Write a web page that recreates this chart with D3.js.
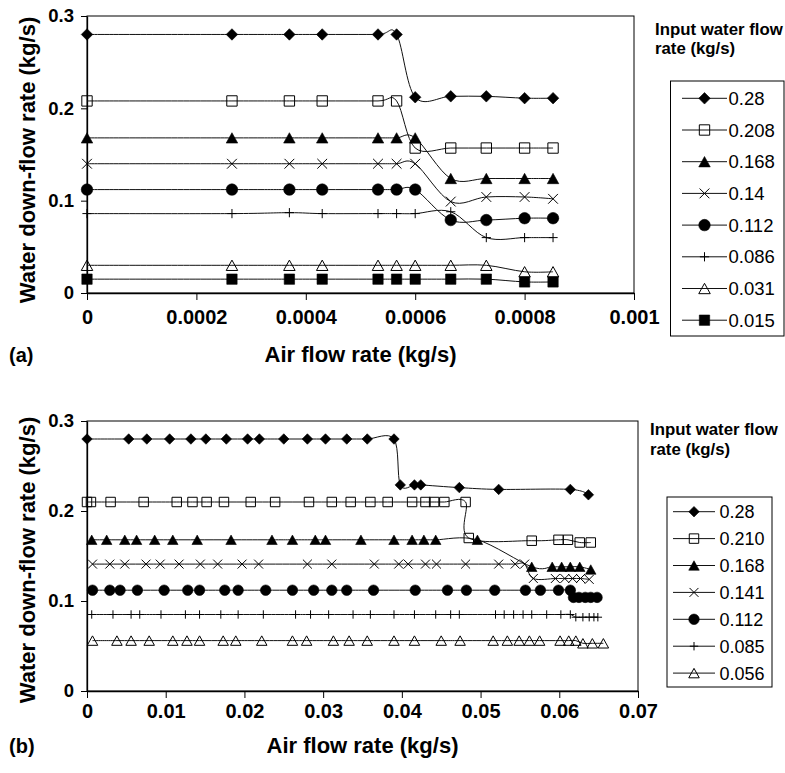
<!DOCTYPE html>
<html>
<head>
<meta charset="utf-8">
<script src="https://cdn.jsdelivr.net/npm/d3@7"></script>
<style>
  body { margin: 0; background: #fff; }
  svg { display: block; }
  text { font-family: "Liberation Sans", Arial, Helvetica, sans-serif; fill: #000; }
</style>
</head>
<body>
<svg id="chart" width="785" height="773"></svg>
<script>
// ---------- Panel (a): air flow 0 – 0.001 kg/s ----------
const airA = [0, 0.000265, 0.00037, 0.00043, 0.000532, 0.000566, 0.0006, 0.000665, 0.00073, 0.0008, 0.000852];
const flowA_028  = [0.28, 0.28, 0.28, 0.28, 0.28, 0.28, 0.212, 0.213, 0.213, 0.211, 0.211];
const flowA_0208 = [0.208, 0.208, 0.208, 0.208, 0.208, 0.208, 0.157, 0.157, 0.157, 0.157, 0.157];
const flowA_0168 = [0.168, 0.168, 0.168, 0.168, 0.168, 0.168, 0.168, 0.124, 0.124, 0.124, 0.124];
const flowA_014  = [0.14, 0.14, 0.14, 0.14, 0.14, 0.14, 0.14, 0.099, 0.104, 0.104, 0.102];
const flowA_0112 = [0.112, 0.112, 0.112, 0.112, 0.112, 0.112, 0.112, 0.079, 0.079, 0.081, 0.081];
const flowA_0086 = [0.086, 0.086, 0.087, 0.086, 0.086, 0.086, 0.086, 0.088, 0.06, 0.06, 0.06];
const flowA_0031 = [0.03, 0.03, 0.03, 0.03, 0.03, 0.03, 0.03, 0.03, 0.03, 0.023, 0.023];
const flowA_0015 = [0.015, 0.015, 0.015, 0.015, 0.015, 0.015, 0.015, 0.015, 0.015, 0.012, 0.012];
const legendA = ["0.28", "0.208", "0.168", "0.14", "0.112", "0.086", "0.031", "0.015"];
const xTicksA = [0, 0.0002, 0.0004, 0.0006, 0.0008, 0.001];
const xTickLabelsA = ["0", "0.0002", "0.0004", "0.0006", "0.0008", "0.001"];

// ---------- Panel (b): air flow 0 – 0.07 kg/s ----------
const airB_028  = [0, 0.0053, 0.0076, 0.0105, 0.0132, 0.0151, 0.0177, 0.0204, 0.0219, 0.025, 0.028, 0.0303, 0.033, 0.0356, 0.039, 0.0398, 0.0416, 0.0424, 0.0473, 0.0523, 0.0614, 0.0637];
const flowB_028 = [0.28, 0.28, 0.28, 0.28, 0.28, 0.28, 0.28, 0.28, 0.28, 0.28, 0.28, 0.28, 0.28, 0.28, 0.28, 0.229, 0.229, 0.229, 0.226, 0.224, 0.224, 0.218];

const airB_0210  = [0, 0.0005, 0.003, 0.0072, 0.0114, 0.0134, 0.0152, 0.0174, 0.0208, 0.0239, 0.0282, 0.0311, 0.0335, 0.036, 0.0382, 0.0413, 0.043, 0.0441, 0.0454, 0.0481, 0.0485, 0.0565, 0.0599, 0.0611, 0.0626, 0.064];
const flowB_0210 = [0.21, 0.21, 0.21, 0.21, 0.21, 0.21, 0.21, 0.21, 0.21, 0.21, 0.21, 0.21, 0.21, 0.21, 0.21, 0.21, 0.21, 0.21, 0.21, 0.21, 0.17, 0.167, 0.168, 0.168, 0.165, 0.165];

const airB_0168  = [0.0006, 0.0025, 0.0048, 0.0063, 0.0086, 0.0109, 0.014, 0.0183, 0.0235, 0.0261, 0.029, 0.0303, 0.0348, 0.039, 0.0413, 0.0428, 0.0443, 0.0496, 0.0565, 0.0591, 0.0603, 0.0614, 0.0626, 0.064];
const flowB_0168 = [0.168, 0.168, 0.168, 0.168, 0.168, 0.168, 0.168, 0.168, 0.168, 0.168, 0.168, 0.168, 0.168, 0.168, 0.168, 0.168, 0.168, 0.168, 0.138, 0.138, 0.138, 0.138, 0.138, 0.135];

const airB_0141  = [0.0007, 0.0029, 0.0048, 0.0075, 0.0093, 0.0117, 0.0144, 0.0166, 0.0197, 0.0218, 0.028, 0.0311, 0.0365, 0.0396, 0.0408, 0.043, 0.0444, 0.0481, 0.0523, 0.0544, 0.0556, 0.0567, 0.0595, 0.0607, 0.0617, 0.0627, 0.0638];
const flowB_0141 = [0.141, 0.141, 0.141, 0.141, 0.141, 0.141, 0.141, 0.141, 0.141, 0.141, 0.141, 0.141, 0.141, 0.141, 0.141, 0.141, 0.141, 0.141, 0.141, 0.141, 0.141, 0.125, 0.125, 0.125, 0.125, 0.125, 0.124];

const airB_0112  = [0.0007, 0.0029, 0.0042, 0.0064, 0.0098, 0.0128, 0.0143, 0.0175, 0.0192, 0.0227, 0.0261, 0.0288, 0.0311, 0.033, 0.0364, 0.0417, 0.0458, 0.0482, 0.0518, 0.0557, 0.0576, 0.0599, 0.0614, 0.0618, 0.0625, 0.0633, 0.064, 0.0648];
const flowB_0112 = [0.112, 0.112, 0.112, 0.112, 0.112, 0.112, 0.112, 0.112, 0.112, 0.112, 0.112, 0.112, 0.112, 0.112, 0.112, 0.112, 0.112, 0.112, 0.112, 0.112, 0.112, 0.112, 0.112, 0.104, 0.104, 0.104, 0.104, 0.104];

const airB_0085  = [0.0006, 0.0033, 0.0056, 0.0067, 0.0094, 0.0125, 0.0143, 0.017, 0.0192, 0.0224, 0.0265, 0.0284, 0.0307, 0.0338, 0.036, 0.039, 0.0416, 0.0443, 0.0462, 0.0473, 0.0519, 0.053, 0.0542, 0.0554, 0.0565, 0.0584, 0.0602, 0.0614, 0.0621, 0.063, 0.0638, 0.0644, 0.0649];
const flowB_0085 = [0.085, 0.085, 0.085, 0.085, 0.085, 0.085, 0.085, 0.085, 0.085, 0.085, 0.085, 0.085, 0.085, 0.085, 0.085, 0.085, 0.085, 0.085, 0.085, 0.085, 0.085, 0.085, 0.085, 0.085, 0.085, 0.085, 0.085, 0.085, 0.082, 0.082, 0.082, 0.082, 0.082];

const airB_0056  = [0.0007, 0.0038, 0.0056, 0.0079, 0.0109, 0.0127, 0.0143, 0.0173, 0.0189, 0.0222, 0.0261, 0.0279, 0.0313, 0.0333, 0.0356, 0.039, 0.0416, 0.045, 0.0474, 0.0516, 0.0534, 0.0549, 0.0562, 0.0575, 0.0601, 0.0612, 0.0621, 0.063, 0.0642, 0.0656];
const flowB_0056 = [0.056, 0.056, 0.056, 0.056, 0.056, 0.056, 0.056, 0.056, 0.056, 0.056, 0.056, 0.056, 0.056, 0.056, 0.056, 0.056, 0.056, 0.056, 0.056, 0.056, 0.056, 0.056, 0.056, 0.056, 0.056, 0.056, 0.056, 0.053, 0.053, 0.053];

const legendB = ["0.28", "0.210", "0.168", "0.141", "0.112", "0.085", "0.056"];
const xTicksB = [0, 0.01, 0.02, 0.03, 0.04, 0.05, 0.06, 0.07];
const xTickLabelsB = ["0", "0.01", "0.02", "0.03", "0.04", "0.05", "0.06", "0.07"];

const yTicks = [0, 0.1, 0.2, 0.3];
const yTickLabels = ["0", "0.1", "0.2", "0.3"];

const markerTypes = ["diamond", "openSquare", "triangle", "cross", "circle", "plus", "openTriangle", "square"];

// ---------- drawing helpers ----------
const svg = d3.select("#chart");

function markerPath(type, s) {
  const h = s / 2;
  const p = d3.path();
  switch (type) {
    case "diamond":
      p.moveTo(0, -h); p.lineTo(h, 0); p.lineTo(0, h); p.lineTo(-h, 0); p.closePath(); break;
    case "openSquare":
    case "square": {
      const q = h * 0.9;
      p.rect(-q, -q, 2 * q, 2 * q); break;
    }
    case "triangle":
    case "openTriangle": {
      const w = h, t = h * 0.9;
      p.moveTo(0, -t); p.lineTo(w, t); p.lineTo(-w, t); p.closePath(); break;
    }
    case "circle":
      p.arc(0, 0, h, 0, 2 * Math.PI); p.closePath(); break;
    case "cross": {
      const c = h * 0.85;
      p.moveTo(-c, -c); p.lineTo(c, c); p.moveTo(c, -c); p.lineTo(-c, c); break;
    }
    case "plus": {
      const c = h * 0.8;
      p.moveTo(0, -c); p.lineTo(0, c); p.moveTo(-c, 0); p.lineTo(c, 0); break;
    }
  }
  return p.toString();
}

function styleMarker(sel, type) {
  const filled = ["diamond", "triangle", "circle", "square"].includes(type);
  sel.attr("fill", filled ? "#000" : "none")
     .attr("stroke", "#000")
     .attr("stroke-width", filled ? 0.6 : 1);
}

function drawPanel(cfg) {
  const g = svg.append("g");
  const x = d3.scaleLinear().domain(cfg.xDomain).range([cfg.left, cfg.right]);
  const y = d3.scaleLinear().domain([0, 0.3]).range([cfg.bottom, cfg.top]);

  // plot frame
  g.append("rect")
    .attr("x", cfg.left).attr("y", cfg.top)
    .attr("width", cfg.right - cfg.left).attr("height", cfg.bottom - cfg.top)
    .attr("fill", "none").attr("stroke", "#000").attr("stroke-width", 1);

  // axes
  const xAxis = d3.axisBottom(x)
    .tickValues(cfg.xTicks)
    .tickFormat((d, i) => cfg.xTickLabels[i])
    .tickSize(7).tickSizeOuter(0).tickPadding(cfg.xPad);
  const gx = g.append("g").attr("transform", `translate(0,${cfg.bottom})`).call(xAxis);
  gx.selectAll("text").attr("font-size", 20).attr("font-weight", "bold")
    .attr("font-family", '"Liberation Sans", Arial, sans-serif');

  const yAxis = d3.axisLeft(y)
    .tickValues(yTicks)
    .tickFormat((d, i) => yTickLabels[i])
    .tickSize(6).tickSizeOuter(0).tickPadding(7);
  const gy = g.append("g").attr("transform", `translate(${cfg.left},0)`).call(yAxis);
  gy.selectAll("text").attr("font-size", 18.5).attr("font-weight", "bold")
    .attr("font-family", '"Liberation Sans", Arial, sans-serif');

  [gx, gy].forEach(a => {
    a.select(".domain").attr("stroke", "#000").attr("stroke-width", 1.3);
    a.selectAll(".tick line").attr("stroke", "#000").attr("stroke-width", 1);
  });

  // series
  const line = d3.line()
    .x(d => x(d.x)).y(d => y(d.y))
    .curve(d3.curveCardinal.tension(0));

  cfg.series.forEach((s, k) => {
    const pts = s.xs.map((v, i) => ({ x: v, y: s.ys[i] }));
    g.append("path").datum(pts)
      .attr("d", line)
      .attr("fill", "none").attr("stroke", "#111").attr("stroke-width", 1);
    const type = markerTypes[k];
    const m = g.append("g").selectAll("path").data(pts).join("path")
      .attr("d", markerPath(type, cfg.markerSize))
      .attr("transform", d => `translate(${x(d.x)},${y(d.y)})`);
    styleMarker(m, type);
  });

  // axis titles
  g.append("text")
    .attr("x", (cfg.left + cfg.right) / 2).attr("y", cfg.xTitleY)
    .attr("text-anchor", "middle").attr("font-size", 22).attr("font-weight", "bold")
    .text("Air flow rate (kg/s)");
  g.append("text")
    .attr("x", 9).attr("y", cfg.xTitleY)
    .attr("font-size", 20).attr("font-weight", "bold")
    .text(cfg.panelLabel);
  g.append("text")
    .attr("transform", `translate(35,${cfg.yTitleMid}) rotate(-90)`)
    .attr("text-anchor", "middle").attr("font-size", 22).attr("font-weight", "bold")
    .text("Water down-flow rate (kg/s)");

  // legend
  const L = cfg.legend;
  g.append("text").attr("x", L.titleX).attr("y", L.titleY1)
    .attr("font-size", 16.8).attr("font-weight", "bold").text("Input water flow");
  g.append("text").attr("x", L.titleX).attr("y", L.titleY2)
    .attr("font-size", 16.8).attr("font-weight", "bold").text("rate (kg/s)");
  g.append("rect")
    .attr("x", L.x0).attr("y", L.y0).attr("width", L.x1 - L.x0).attr("height", L.y1 - L.y0)
    .attr("fill", "#fff").attr("stroke", "#000").attr("stroke-width", 1);
  cfg.legendLabels.forEach((lab, k) => {
    const cy = L.first + k * L.step;
    g.append("line").attr("x1", L.lineX0).attr("x2", L.lineX1)
      .attr("y1", cy).attr("y2", cy).attr("stroke", "#111").attr("stroke-width", 1);
    const type = markerTypes[k];
    const m = g.append("path").attr("d", markerPath(type, cfg.markerSize))
      .attr("transform", `translate(${(L.lineX0 + L.lineX1) / 2},${cy})`);
    styleMarker(m, type);
    g.append("text").attr("x", L.textX).attr("y", cy + 6.5)
      .attr("font-size", L.fontSize).text(lab);
  });
}

drawPanel({
  left: 87, right: 634, top: 16, bottom: 293,
  xDomain: [0, 0.001], xTicks: xTicksA, xTickLabels: xTickLabelsA, xPad: 10,
  markerSize: 11.5,
  xTitleY: 362, yTitleMid: 160, panelLabel: "(a)",
  series: [
    { xs: airA, ys: flowA_028 }, { xs: airA, ys: flowA_0208 },
    { xs: airA, ys: flowA_0168 }, { xs: airA, ys: flowA_014 },
    { xs: airA, ys: flowA_0112 }, { xs: airA, ys: flowA_0086 },
    { xs: airA, ys: flowA_0031 }, { xs: airA, ys: flowA_0015 }
  ],
  legendLabels: legendA,
  legend: { titleX: 655, titleY1: 35, titleY2: 54, x0: 670.5, x1: 784, y0: 81, y1: 336,
            first: 98.3, step: 31.7, lineX0: 682, lineX1: 727, textX: 728.5, fontSize: 18.5 }
});

drawPanel({
  left: 87, right: 638, top: 421, bottom: 691,
  xDomain: [0, 0.07], xTicks: xTicksB, xTickLabels: xTickLabelsB, xPad: 6,
  markerSize: 10.5,
  xTitleY: 753, yTitleMid: 560, panelLabel: "(b)",
  series: [
    { xs: airB_028, ys: flowB_028 }, { xs: airB_0210, ys: flowB_0210 },
    { xs: airB_0168, ys: flowB_0168 }, { xs: airB_0141, ys: flowB_0141 },
    { xs: airB_0112, ys: flowB_0112 }, { xs: airB_0085, ys: flowB_0085 },
    { xs: airB_0056, ys: flowB_0056 }
  ],
  legendLabels: legendB,
  legend: { titleX: 650, titleY1: 435, titleY2: 455, x0: 667, x1: 772, y0: 497, y1: 687,
            first: 511.7, step: 26.9, lineX0: 673, lineX1: 715, textX: 719.5, fontSize: 18 }
});
</script>
</body>
</html>
